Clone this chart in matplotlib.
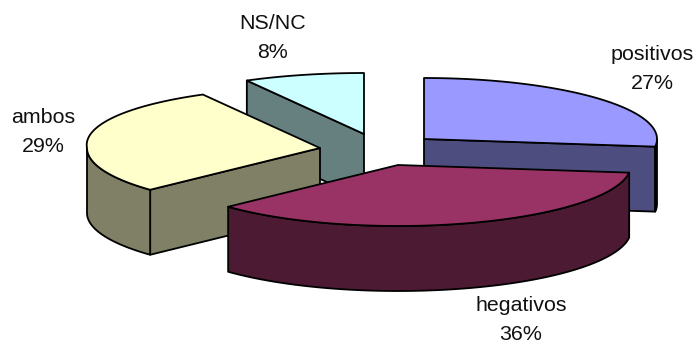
import numpy as np
import matplotlib
matplotlib.use("Agg")
import matplotlib.pyplot as plt
from matplotlib.patches import Polygon

plt.rcParams['font.family'] = ['Liberation Sans', 'DejaVu Sans']

# -----------------------------
# DATA
# -----------------------------
labels = ["positivos", "hegativos", "ambos", "NS/NC"]
shares = [27, 36, 29, 8]

# -----------------------------
# STYLE / LAYOUT (pixels)
# -----------------------------
top_colors = ["#9999FF", "#993366", "#FFFFCC", "#CCFFFF"]
side_colors = ["#4D4D80", "#4D1A33", "#808066", "#668080"]
centers = [(424, 139), (398, 165), (320, 148), (364, 134)]
label_pos = [(652, 69), (521, 320), (43, 132), (273, 38)]
RX = 233
RY = 61
DEPTH = 65
EDGE = 1.3


def rim(cx, cy, a0, a1, dy=0):
    # angles run clockwise from twelve o'clock, in degrees
    n = max(int(abs(a1 - a0)) * 2, 2)
    t = np.radians(np.linspace(a0, a1, n))
    # the far left of the pie reads a little wider
    stretch = 1 + 0.05 * np.clip(np.cos(t), 0, 1) * (np.sin(t) < 0)
    return np.column_stack([cx + RX * stretch * np.sin(t), cy - RY * np.cos(t) + dy])


def draw_slice(ax, i, a0, a1):
    cx, cy = centers[i]
    top = np.vstack([[cx, cy], rim(cx, cy, a0, a1)])

    # cut faces that look towards the viewer
    for a, visible in ((a0, 180 < a0 < 360), (a1, 0 < a1 < 180)):
        if visible:
            ex, ey = rim(cx, cy, a, a)[0]
            ax.add_patch(Polygon([(cx, cy), (ex, ey), (ex, ey + DEPTH), (cx, cy + DEPTH)],
                                 fc=side_colors[i], ec="black", lw=EDGE,
                                 joinstyle="round", zorder=i))

    # outer wall, only the part on the near half
    lo, hi = max(a0, 90), min(a1, 270)
    if lo < hi:
        up = rim(cx, cy, lo, hi)
        down = rim(cx, cy, hi, lo, DEPTH)
        ax.add_patch(Polygon(np.vstack([up, down]), fc=side_colors[i], ec="black",
                             lw=EDGE, joinstyle="round", zorder=i))

    ax.add_patch(Polygon(top, fc=top_colors[i], ec="black", lw=EDGE,
                         joinstyle="round", zorder=i))


# -----------------------------
# FIGURE
# -----------------------------
fig = plt.figure(figsize=(6.96, 3.45), dpi=100)
ax = fig.add_axes([0, 0, 1, 1])
ax.set_xlim(0, 696)
ax.set_ylim(345, 0)
ax.axis('off')

angles = np.cumsum([0] + shares) * 3.6

# back slices first, the big front one last; zorder follows this order
order = [3, 0, 2, 1]
for z, i in enumerate(order):
    draw_slice(ax, i, angles[i], angles[i + 1])
    for p in ax.patches:
        if p.get_zorder() == i:
            p.set_zorder(z + 0.5)

for i in range(len(labels)):
    x, y = label_pos[i]
    ax.text(x, y, f"{labels[i]}\n{shares[i]}%", ha="center", va="center",
            fontsize=15.4, color="#111111", linespacing=1.65, zorder=10)

fig.savefig("out.png", dpi=100)
